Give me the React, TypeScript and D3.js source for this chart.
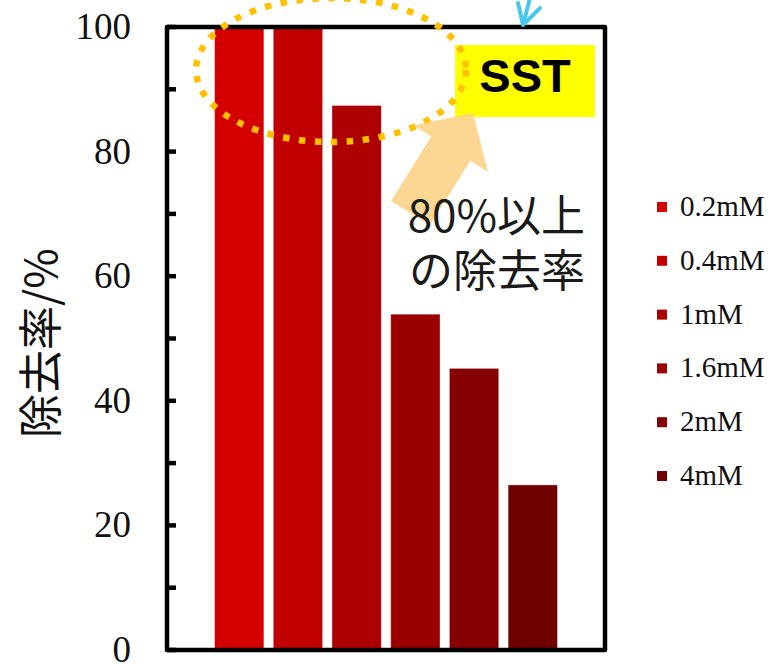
import React from "react";
import * as d3 from "d3";

// Removal rate of SST by concentration
const series = ["0.2mM", "0.4mM", "1mM", "1.6mM", "2mM", "4mM"];
const removalRate = [100, 100, 87.4, 53.9, 45.2, 26.5];
const barColors = ["#d40000", "#c10000", "#ad0000", "#9a0000", "#860000", "#6e0000"];
const majorTicks = [0, 20, 40, 60, 80, 100];
const minorTicks = [10, 30, 50, 70, 90];

const W = 770;
const H = 664;
const plot = { left: 167, right: 605, top: 27, bottom: 650 };

export default function App() {
  const y = d3.scaleLinear().domain([0, 100]).range([plot.bottom, plot.top]);
  const x = d3
    .scaleBand<string>()
    .domain(series)
    .range([plot.left, plot.right])
    .paddingInner(0.16)
    .paddingOuter(0.81);

  const serif = "'Liberation Serif', 'Times New Roman', serif";
  const cjk = "'Noto Sans CJK JP', 'Noto Sans', sans-serif";

  // block arrow in local coordinates, tip at the origin pointing along +x
  const arrowPts: [number, number][] = [
    [0, 0],
    [-42, -44],
    [-42, -23],
    [-118, -23],
    [-118, 23],
    [-42, 23],
    [-42, 44],
  ];
  const arrowPath = d3.line()(arrowPts) + "Z";

  const legendY = d3.scalePoint<string>().domain(series).range([207, 476]);

  return (
    <svg
      width={W}
      height={H}
      style={{ position: "absolute", left: 0, top: 0, background: "#fff" }}
    >
      <defs>
        <linearGradient id="arrowFill" gradientUnits="userSpaceOnUse" x1="398" y1="118" x2="470" y2="212">
          <stop offset="0" stopColor="#fbd080" stopOpacity={0.85} />
          <stop offset="0.45" stopColor="#fde3b3" stopOpacity={0.7} />
          <stop offset="1" stopColor="#ffffff" stopOpacity={0.05} />
        </linearGradient>
      </defs>

      {/* bars */}
      {series.map((s, i) => (
        <rect
          key={s}
          x={x(s)}
          y={y(removalRate[i])}
          width={x.bandwidth()}
          height={y(0) - y(removalRate[i])}
          fill={barColors[i]}
          stroke="#ffffff"
          strokeOpacity={0.35}
          strokeWidth={1}
        />
      ))}

      {/* plot frame */}
      <path
        d={`M${plot.left},${plot.top}H${plot.right}V${plot.bottom}H${plot.left}Z`}
        fill="none"
        stroke="#000"
        strokeWidth={4.5}
        strokeLinejoin="round"
      />

      {/* y ticks (inward) */}
      {[...majorTicks, ...minorTicks].map((t) => (
        <line
          key={`t${t}`}
          x1={plot.left}
          x2={plot.left + 9}
          y1={y(t)}
          y2={y(t)}
          stroke="#000"
          strokeWidth={4.5}
        />
      ))}
      {majorTicks.map((t) => (
        <text
          key={`l${t}`}
          x={131}
          y={y(t) + 12}
          textAnchor="end"
          fontFamily={serif}
          fontSize={37}
          fill="#111"
        >
          {t}
        </text>
      ))}

      {/* y axis title */}
      <text
        transform="translate(57,343) rotate(-90)"
        textAnchor="middle"
        fontFamily={cjk}
        fontSize={44}
        fill="#111"
      >
        除去率/%
      </text>

      {/* legend */}
      {series.map((s, i) => (
        <g key={`lg${s}`}>
          <rect x={657} y={(legendY(s) as number) - 5} width={10} height={10} fill={barColors[i]} />
          <text x={680} y={(legendY(s) as number) + 9} fontFamily={serif} fontSize={29} fill="#111">
            {s}
          </text>
        </g>
      ))}

      {/* SST label */}
      <rect x={455} y={45} width={140} height={72} fill="#ffff00" />
      <text
        x={525}
        y={92}
        textAnchor="middle"
        fontFamily="'Liberation Sans', Arial, sans-serif"
        fontWeight="bold"
        fontSize={47}
        fill="#000"
      >
        SST
      </text>

      {/* dotted highlight ellipse */}
      <ellipse
        cx={331}
        cy={70}
        rx={135}
        ry={72}
        fill="none"
        stroke="#ffc000"
        strokeWidth={6.5}
        strokeDasharray="6.5 9.5"
      />

      {/* block arrow towards the highlighted bars */}
      <path d={arrowPath} transform="translate(473,113) rotate(-58)" fill="url(#arrowFill)" />

      {/* annotation */}
      <text x={585} y={232} textAnchor="end" fontFamily={cjk} fontSize={44} fill="#1a1a1a">
        80%以上
      </text>
      <text x={585} y={287} textAnchor="end" fontFamily={cjk} fontSize={44} fill="#1a1a1a">
        の除去率
      </text>

      {/* pointer at top */}
      <path
        d="M530,-2L523,25M518,3L523,25L540,8"
        fill="none"
        stroke="#4cc8ef"
        strokeWidth={4}
        strokeLinecap="round"
        strokeLinejoin="round"
      />
    </svg>
  );
}
